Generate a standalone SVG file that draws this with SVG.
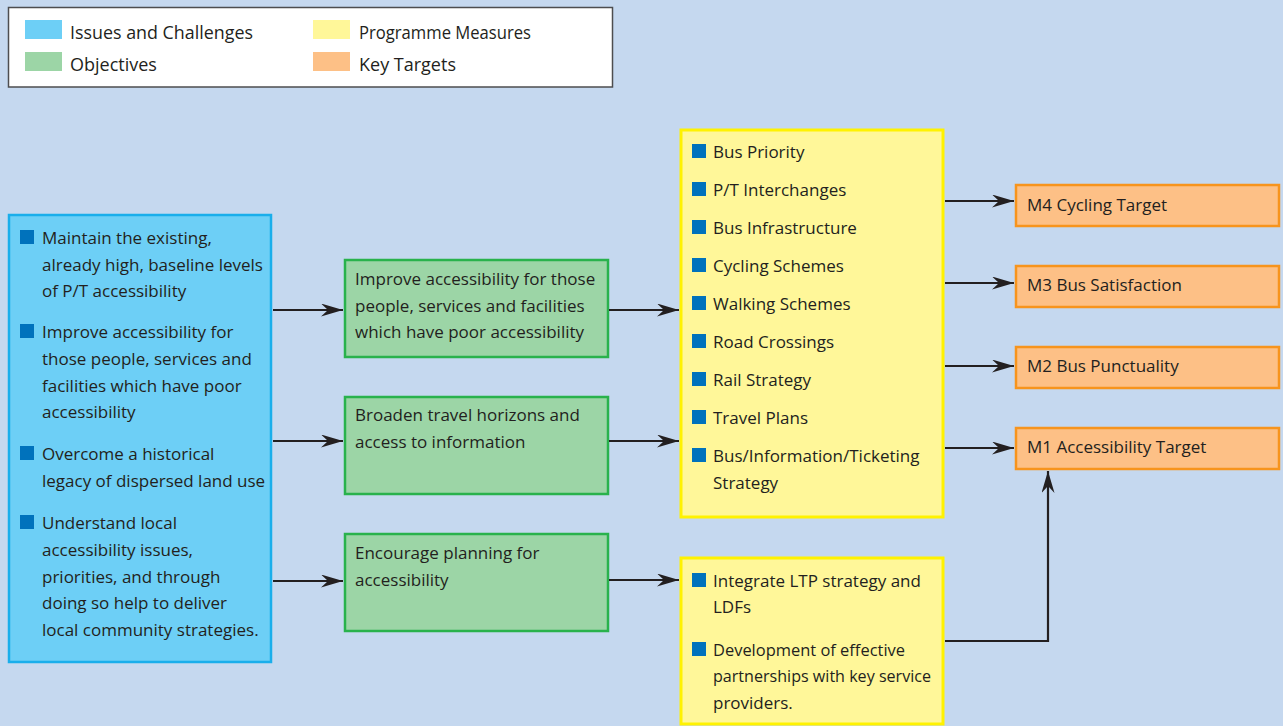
<svg xmlns="http://www.w3.org/2000/svg" width="1283" height="726" viewBox="0 0 1283 726">
<defs>
<style>
text{font-family:"Open Sans","Noto Sans","DejaVu Sans",sans-serif;font-size:17px;fill:#231f20}
.leg{font-size:18px}
.blue{fill:#6dcff6;stroke:#1aaeeb;stroke-width:2.5}
.green{fill:#9cd5a6;stroke:#29b24c;stroke-width:2.5}
.yellow{fill:#fff799;stroke:#fff200;stroke-width:3}
.orange{fill:#fdc086;stroke:#f7941d;stroke-width:2.5}
.bul{fill:#0072bc}
.conn{fill:none;stroke:#231f20;stroke-width:2.2}
</style>
<marker id="ah" viewBox="0 0 22 13" refX="22" refY="6.5" markerWidth="22" markerHeight="13" markerUnits="userSpaceOnUse" orient="auto">
<path d="M0,0 L22,6.5 L0,13 L7,6.5 z" fill="#231f20"/>
</marker>
</defs>
<rect width="1283" height="726" fill="#c5d8ef"/>

<g id="legend">
<rect x="8.5" y="7.5" width="604" height="79.5" fill="#ffffff" stroke="#4d4d4f" stroke-width="1.5"/>
<rect x="25" y="20" width="37" height="19" fill="#6dcff6"/>
<text class="leg" x="70" y="39" textLength="183" lengthAdjust="spacingAndGlyphs">Issues and Challenges</text>
<rect x="25" y="52" width="37" height="19" fill="#9cd5a6"/>
<text class="leg" x="70" y="71">Objectives</text>
<rect x="313" y="20" width="37" height="19" fill="#fff799"/>
<text class="leg" x="359" y="39" textLength="172" lengthAdjust="spacingAndGlyphs">Programme Measures</text>
<rect x="313" y="52" width="37" height="19" fill="#fdc086"/>
<text class="leg" x="359" y="71">Key Targets</text>
</g>

<g id="issues">
<rect class="blue" x="9" y="215" width="262" height="447"/>
<rect class="bul" x="20" y="230" width="14" height="14"/>
<text x="42" y="244">Maintain the existing,</text>
<text x="42" y="271">already high, baseline levels</text>
<text x="42" y="297">of P/T accessibility</text>
<rect class="bul" x="20" y="324" width="14" height="14"/>
<text x="42" y="338">Improve accessibility for</text>
<text x="42" y="365">those people, services and</text>
<text x="42" y="392">facilities which have poor</text>
<text x="42" y="418">accessibility</text>
<rect class="bul" x="20" y="446" width="14" height="14"/>
<text x="42" y="460">Overcome a historical</text>
<text x="42" y="487">legacy of dispersed land use</text>
<rect class="bul" x="20" y="515" width="14" height="14"/>
<text x="42" y="529">Understand local</text>
<text x="42" y="556">accessibility issues,</text>
<text x="42" y="583">priorities, and through</text>
<text x="42" y="609">doing so help to deliver</text>
<text x="42" y="636">local community strategies.</text>
</g>

<g id="obj1">
<rect class="green" x="345" y="260" width="263" height="97"/>
<text x="355" y="285">Improve accessibility for those</text>
<text x="355" y="312">people, services and facilities</text>
<text x="355" y="338">which have poor accessibility</text>
</g>
<g id="obj2">
<rect class="green" x="345" y="397" width="263" height="97"/>
<text x="355" y="421">Broaden travel horizons and</text>
<text x="355" y="448">access to information</text>
</g>
<g id="obj3">
<rect class="green" x="345" y="534" width="263" height="97"/>
<text x="355" y="559">Encourage planning for</text>
<text x="355" y="586">accessibility</text>
</g>

<g id="measures1">
<rect class="yellow" x="681" y="130" width="262" height="387"/>
<rect class="bul" x="692" y="144" width="14" height="14"/>
<text x="713" y="158">Bus Priority</text>
<rect class="bul" x="692" y="182" width="14" height="14"/>
<text x="713" y="196">P/T Interchanges</text>
<rect class="bul" x="692" y="220" width="14" height="14"/>
<text x="713" y="234">Bus Infrastructure</text>
<rect class="bul" x="692" y="258" width="14" height="14"/>
<text x="713" y="272">Cycling Schemes</text>
<rect class="bul" x="692" y="296" width="14" height="14"/>
<text x="713" y="310">Walking Schemes</text>
<rect class="bul" x="692" y="334" width="14" height="14"/>
<text x="713" y="348">Road Crossings</text>
<rect class="bul" x="692" y="372" width="14" height="14"/>
<text x="713" y="386">Rail Strategy</text>
<rect class="bul" x="692" y="410" width="14" height="14"/>
<text x="713" y="424">Travel Plans</text>
<rect class="bul" x="692" y="448" width="14" height="14"/>
<text x="713" y="462">Bus/Information/Ticketing</text>
<text x="713" y="489">Strategy</text>
</g>

<g id="measures2">
<rect class="yellow" x="681" y="558" width="262" height="166"/>
<rect class="bul" x="692" y="573" width="14" height="14"/>
<text x="713" y="587">Integrate LTP strategy and</text>
<text x="713" y="613">LDFs</text>
<rect class="bul" x="692" y="642" width="14" height="14"/>
<text x="713" y="656" textLength="192" lengthAdjust="spacingAndGlyphs">Development of effective</text>
<text x="713" y="682" textLength="218" lengthAdjust="spacingAndGlyphs">partnerships with key service</text>
<text x="713" y="709">providers.</text>
</g>

<g id="m4">
<rect class="orange" x="1016" y="185" width="263" height="41"/>
<text x="1027" y="211">M4 Cycling Target</text>
</g>
<g id="m3">
<rect class="orange" x="1016" y="266" width="263" height="41"/>
<text x="1027" y="291">M3 Bus Satisfaction</text>
</g>
<g id="m2">
<rect class="orange" x="1016" y="347" width="263" height="41"/>
<text x="1027" y="372">M2 Bus Punctuality</text>
</g>
<g id="m1">
<rect class="orange" x="1016" y="428" width="263" height="41"/>
<text x="1027" y="453">M1 Accessibility Target</text>
</g>

<g id="connectors">
<path class="conn" marker-end="url(#ah)" d="M273,310 H343"/>
<path class="conn" marker-end="url(#ah)" d="M273,441 H343"/>
<path class="conn" marker-end="url(#ah)" d="M273,581 H343"/>
<path class="conn" marker-end="url(#ah)" d="M609,310 H679"/>
<path class="conn" marker-end="url(#ah)" d="M609,441 H679"/>
<path class="conn" marker-end="url(#ah)" d="M609,580 H679"/>
<path class="conn" marker-end="url(#ah)" d="M945,201 H1014"/>
<path class="conn" marker-end="url(#ah)" d="M945,283 H1014"/>
<path class="conn" marker-end="url(#ah)" d="M945,366 H1014"/>
<path class="conn" marker-end="url(#ah)" d="M945,448 H1014"/>
<path class="conn" marker-end="url(#ah)" d="M945,641 H1048 V471"/>
</g>
</svg>
